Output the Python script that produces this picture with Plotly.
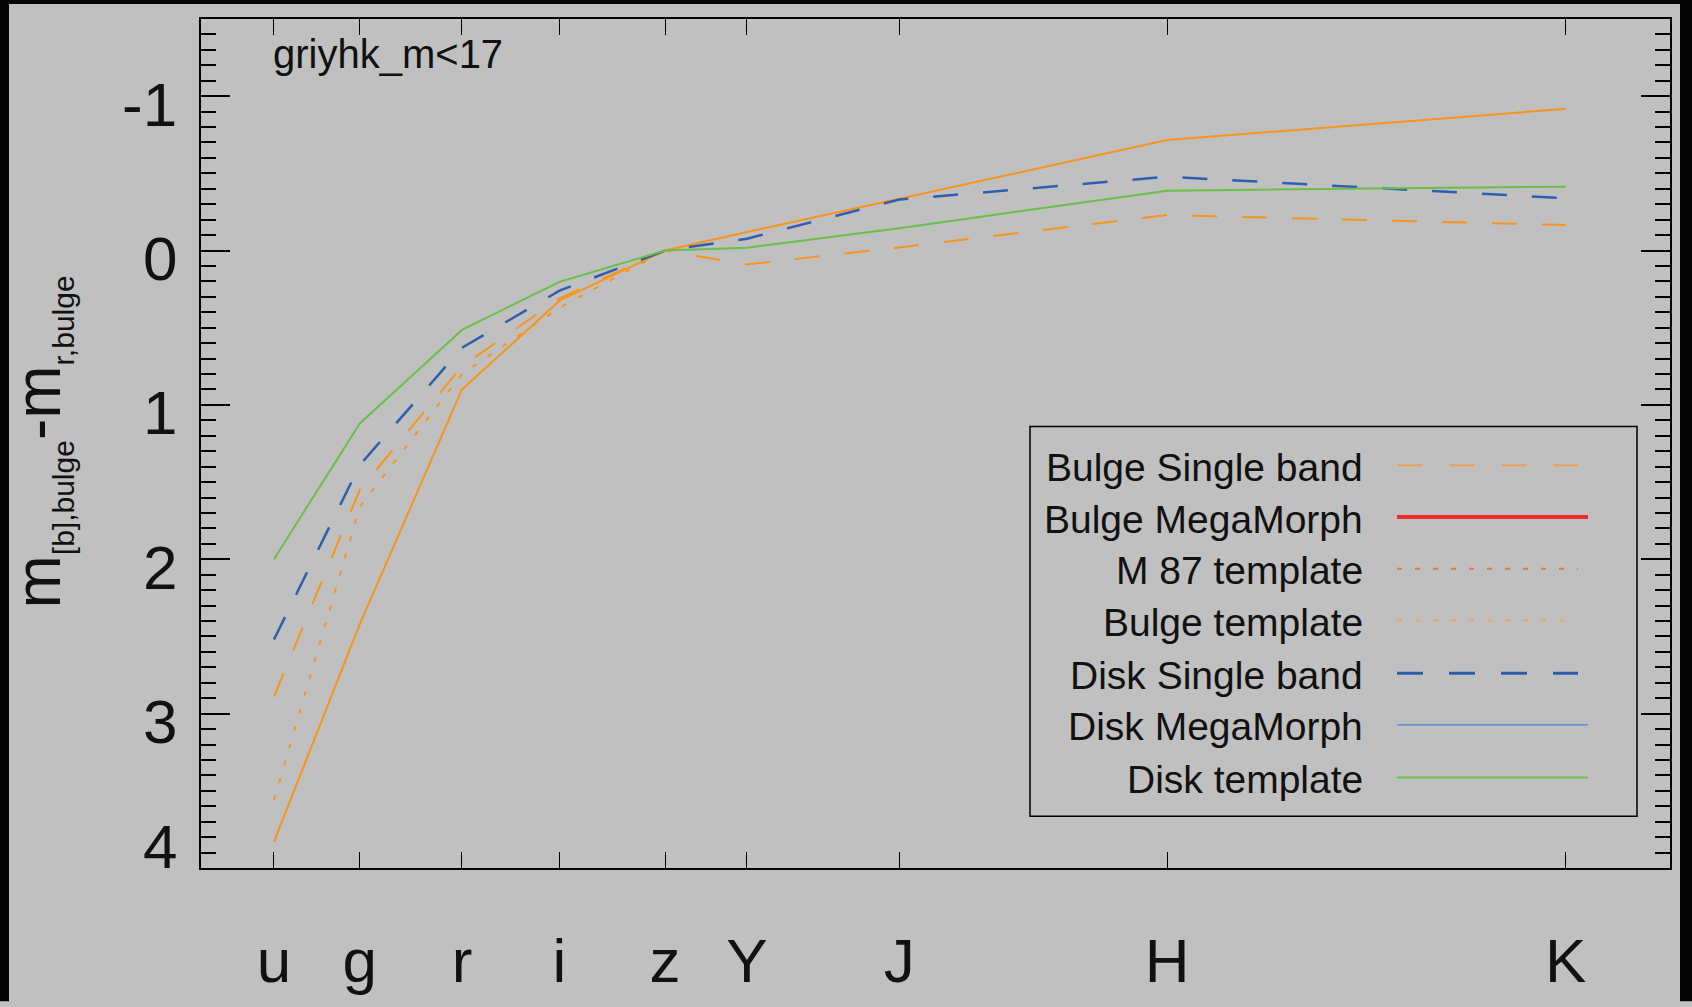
import plotly.graph_objects as go

# Filter effective wavelengths (Angstrom) and band names
wavelengths = [3543, 4770, 6231, 7625, 9134, 10305, 12483, 16313, 22010]
bands = ["u", "g", "r", "i", "z", "Y", "J", "H", "K"]

# Colour offsets m_[b],bulge - m_r,bulge for each profile
bulge_single_band = [2.89, 1.55, 0.75, 0.31, 0.0, 0.09, -0.02, -0.23, -0.165]
bulge_template = [3.83, 2.42, 0.90, 0.325, 0.0, -0.12, -0.335, -0.716, -0.918]
m87_template = [3.56, 1.66, 0.80, 0.37, 0.0, None, None, None, None]
disk_single_band = [2.52, 1.39, 0.63, 0.26, 0.0, -0.077, -0.33, -0.478, -0.339]
disk_template = [2.00, 1.12, 0.514, 0.203, 0.0, -0.018, -0.145, -0.388, -0.414]

y_ticks = [-1, 0, 1, 2, 3, 4]
y_ticktext = ["-1", "0", "1", "2", "3", "4"]

legend_names = ["Bulge Single band", "Bulge MegaMorph", "M 87 template",
                "Bulge template", "Disk Single band", "Disk MegaMorph",
                "Disk template"]

W, H = 1692, 1007
L, R, T, B = 201, 1670, 19, 873   # plot area in pixels
FONT = "Liberation Sans, Arial, Helvetica, sans-serif"
BG = "#c0c0c0"
ORANGE = "#f7941d"
BLUE = "#2e5fae"
GREEN = "#6abf47"


def px(x):
    return (x - L) / (R - L)


def py(y):
    return (B - y) / (B - T)


fig = go.Figure()

fig.add_trace(go.Scatter(x=wavelengths, y=bulge_template, mode="lines",
                         line=dict(color=ORANGE, width=2), name="Bulge template"))
fig.add_trace(go.Scatter(x=wavelengths, y=m87_template, mode="lines",
                         line=dict(color=ORANGE, width=2, dash="5px,13px"),
                         name="M 87 template"))
fig.add_trace(go.Scatter(x=wavelengths, y=bulge_single_band, mode="lines",
                         line=dict(color=ORANGE, width=2, dash="25px,25px"),
                         name="Bulge Single band"))
fig.add_trace(go.Scatter(x=wavelengths, y=disk_single_band, mode="lines",
                         line=dict(color=BLUE, width=2.5, dash="25px,25px"),
                         name="Disk Single band"))
fig.add_trace(go.Scatter(x=wavelengths, y=disk_template, mode="lines",
                         line=dict(color=GREEN, width=2), name="Disk template"))

shapes = []
annotations = []

# Legend box
shapes.append(dict(type="rect", xref="paper", yref="paper",
                   x0=px(1030), x1=px(1637), y0=py(821), y1=py(429),
                   line=dict(color="black", width=1.5), fillcolor=BG, layer="above"))

legend_styles = [
    dict(color="#e9a25a", width=2, dash="26px,26px", end=1578),
    dict(color="#ee2e2e", width=4, dash="solid", end=1588),
    dict(color="#f0703a", width=2, dash="5px,13px", end=1578),
    dict(color="#e8a55c", width=2, dash="5px,13px", end=1578),
    dict(color="#2c5ca8", width=3, dash="26px,26px", end=1578),
    dict(color="#4a86cf", width=1.3, dash="solid", end=1588),
    dict(color="#6cbf4b", width=2, dash="solid", end=1588),
]
row_y = [468, 520, 572, 624, 677, 729, 782]
for name, st, yy in zip(legend_names, legend_styles, row_y):
    shapes.append(dict(type="line", xref="paper", yref="paper",
                       x0=px(1397), x1=px(st["end"]), y0=py(yy), y1=py(yy),
                       line=dict(color=st["color"], width=st["width"], dash=st["dash"]),
                       layer="above"))
    annotations.append(dict(xref="paper", yref="paper", x=px(1365), y=py(yy + 2),
                            xanchor="right", yanchor="middle", text=name,
                            showarrow=False,
                            font=dict(family=FONT, size=39, color="#111111")))

# Y tick labels: sit slightly below their ticks, the last one kept inside the frame
for val, txt in zip(y_ticks, y_ticktext):
    shift = 22 if val == y_ticks[-1] else -8
    annotations.append(dict(xref="paper", yref="y", x=px(179), y=val,
                            yshift=shift, xanchor="right", yanchor="middle",
                            text=txt, showarrow=False,
                            font=dict(family=FONT, size=62, color="#111111")))

# Sample label in the upper left
annotations.append(dict(xref="paper", yref="paper", x=px(271), y=py(54),
                        xanchor="left", yanchor="middle", text="griyhk_m<17",
                        showarrow=False,
                        font=dict(family=FONT, size=40, color="#111111")))

# Rotated y-axis title
annotations.append(dict(
    xref="paper", yref="paper", x=px(41), y=py(445),
    xanchor="center", yanchor="middle", textangle=-90, showarrow=False,
    text=("m<sub><span style=\"font-size:30px\">[b],bulge</span></sub>"
          "-m<sub><span style=\"font-size:30px\">r,bulge</span></sub>"),
    font=dict(family=FONT, size=64, color="#111111")))

# Dark frame around the figure edges
for x0, x1, y0, y1 in [(0, 9, 0, H), (0, W, 0, 4), (1680, W, 0, H)]:
    shapes.append(dict(type="rect", xref="paper", yref="paper",
                       x0=px(x0), x1=px(x1), y0=py(y1), y1=py(y0),
                       line=dict(width=0), fillcolor="#050505", layer="above"))

fig.update_layout(
    width=W, height=H,
    margin=dict(l=L, r=W - R, t=T, b=H - B, pad=0),
    paper_bgcolor=BG, plot_bgcolor=BG,
    showlegend=False,
    font=dict(family=FONT, color="#111111"),
    shapes=shapes, annotations=annotations,
)

fig.update_xaxes(
    range=[2500, 23500], autorange=False,
    tickmode="array", tickvals=wavelengths, ticktext=bands,
    ticks="inside", ticklen=16, tickwidth=1.3, tickcolor="black",
    showline=True, linecolor="black", linewidth=2, mirror="allticks",
    showgrid=False, zeroline=False,
    tickfont=dict(family=FONT, size=62, color="#111111"),
    ticklabelstandoff=38,
)

fig.update_yaxes(
    range=[4, -1.5], autorange=False,
    tickmode="array", tickvals=y_ticks, showticklabels=False,
    ticks="inside", ticklen=29, tickwidth=2, tickcolor="black",
    showline=True, linecolor="black", linewidth=2, mirror="allticks",
    showgrid=False, zeroline=False,
    minor=dict(tickmode="linear", tick0=0, dtick=0.1, ticks="inside",
               ticklen=15, tickwidth=1.5, tickcolor="black", showgrid=False),
)

fig.write_html("out.html")
